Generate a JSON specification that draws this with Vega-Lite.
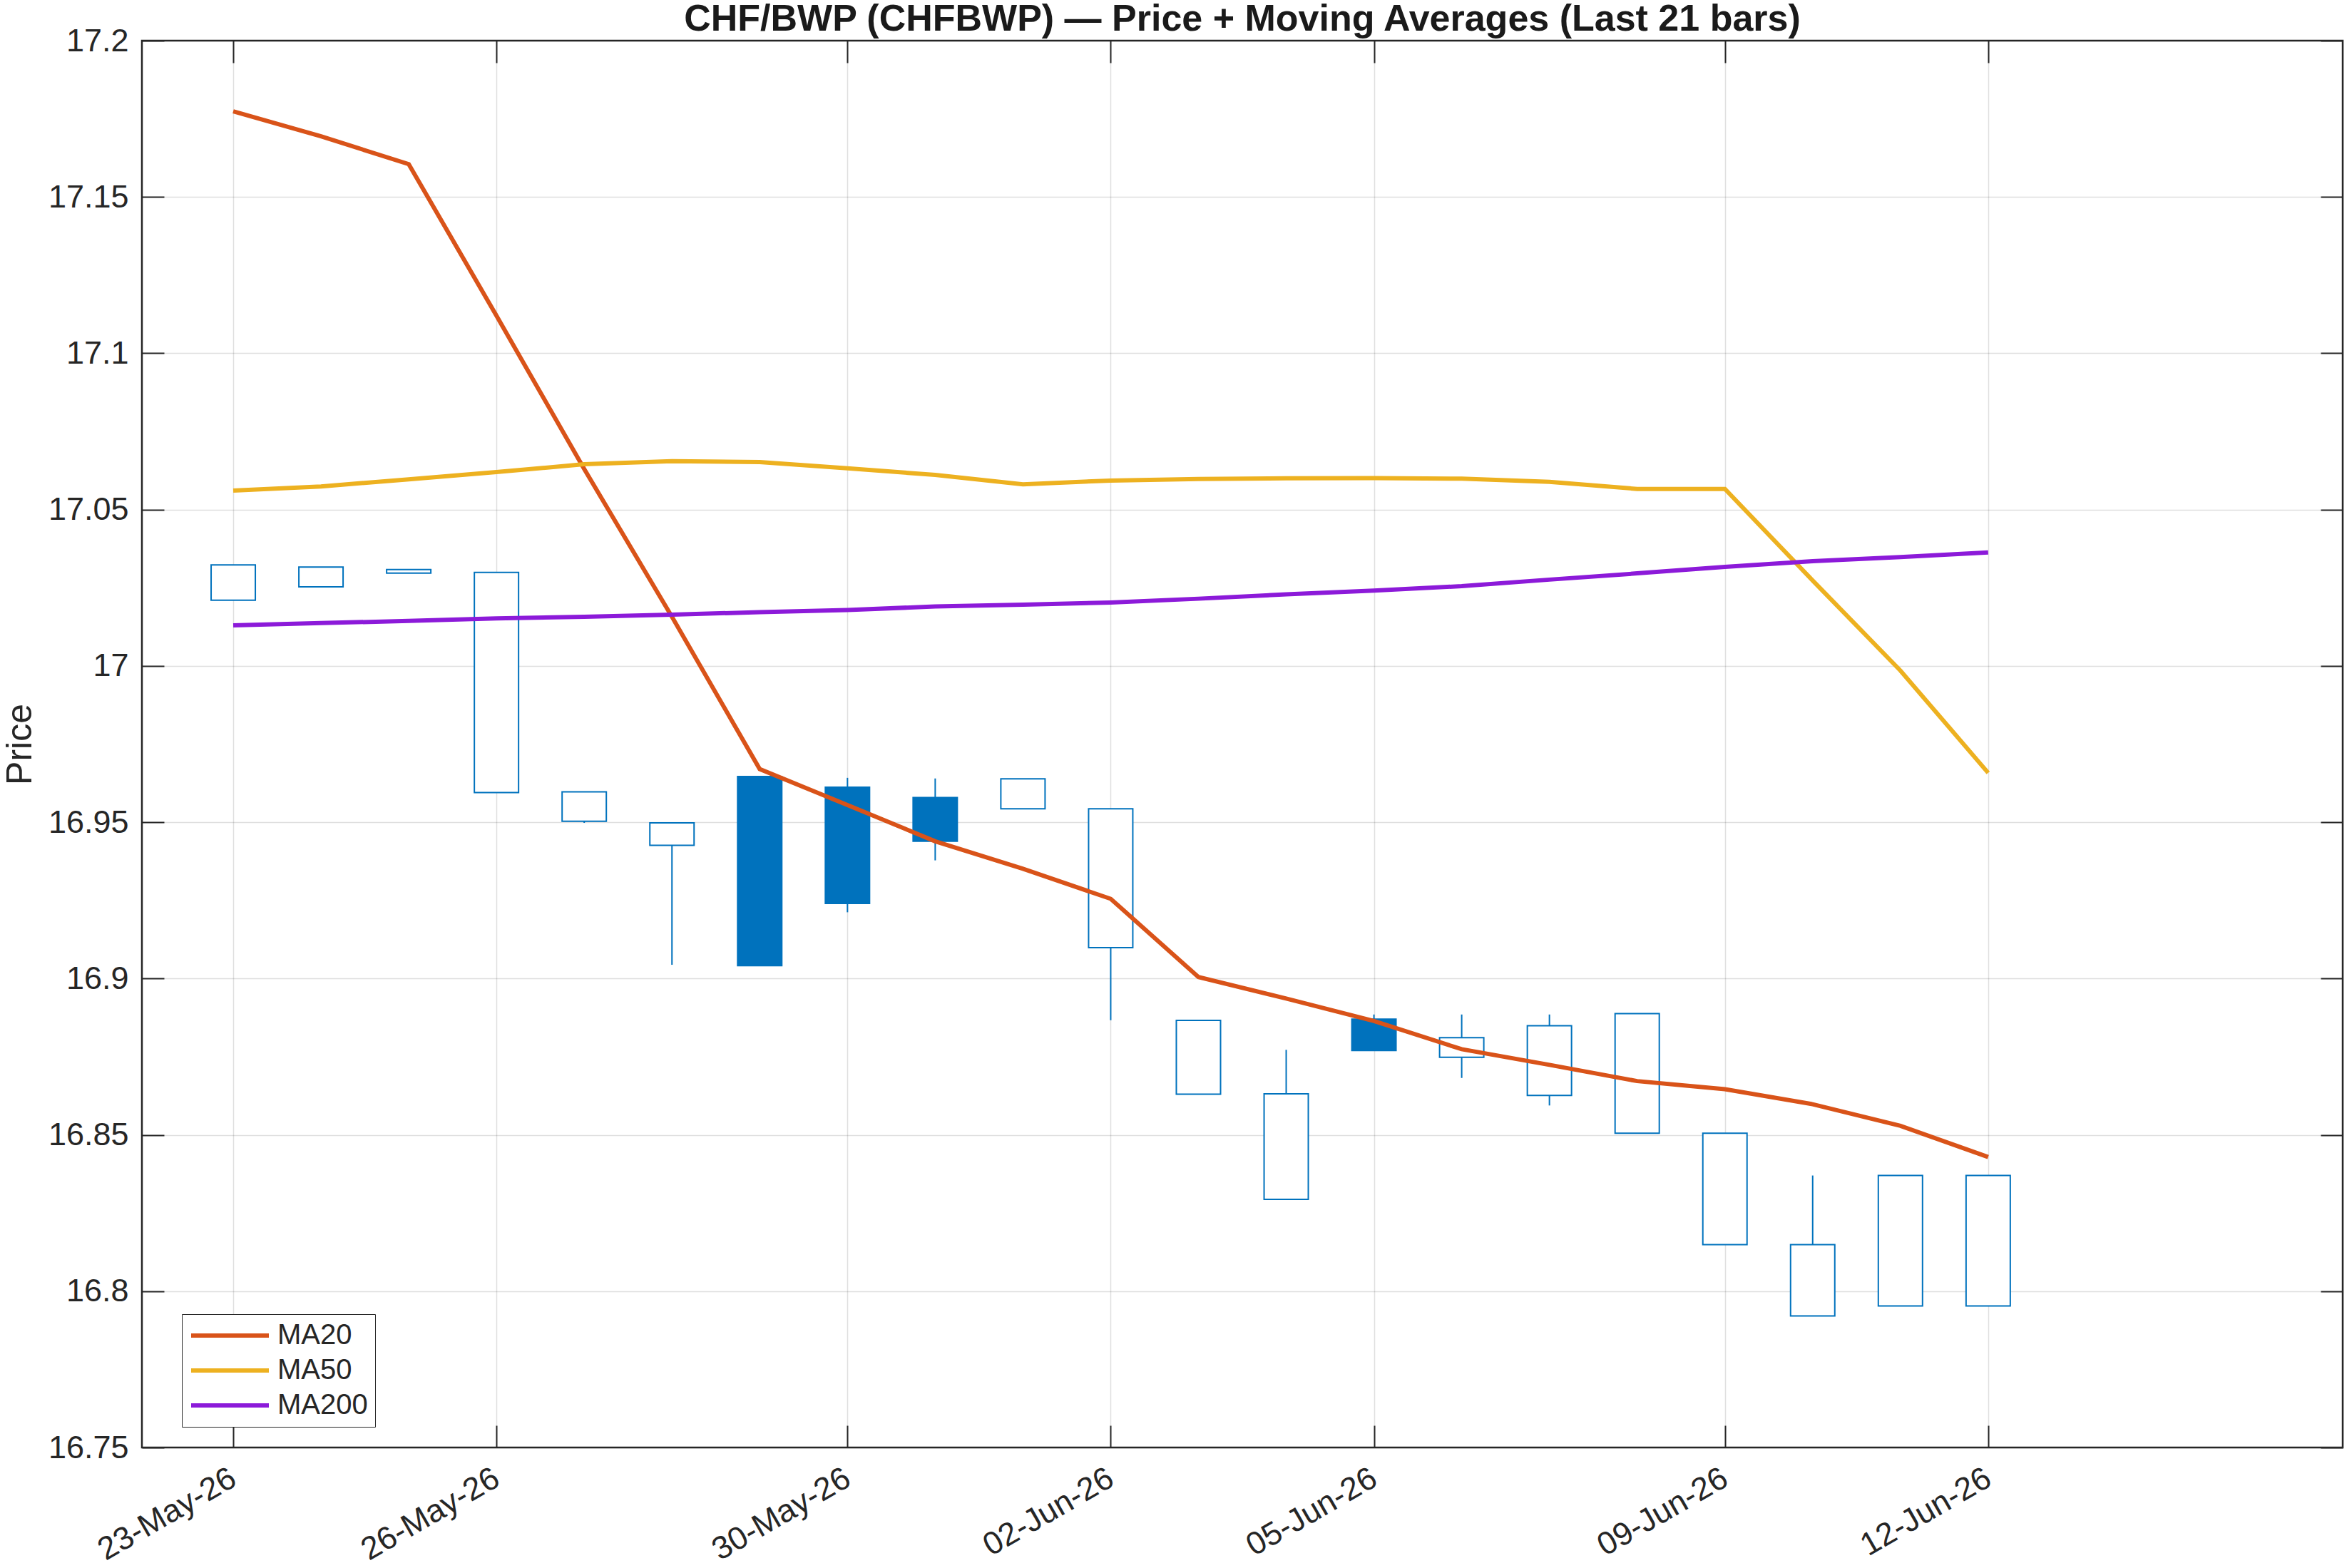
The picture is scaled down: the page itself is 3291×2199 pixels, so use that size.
{
  "$schema": "https://vega.github.io/schema/vega-lite/v6.json",
  "width": 3086,
  "height": 1973,
  "autosize": {"type": "none"},
  "padding": {"left": 199, "top": 57, "right": 6, "bottom": 169},
  "background": "white",
  "title": {
    "text": "CHF/BWP (CHFBWP) — Price + Moving Averages (Last 21 bars)",
    "fontSize": 52,
    "fontWeight": "bold",
    "font": "Liberation Sans",
    "color": "#1a1a1a",
    "anchor": "middle",
    "frame": "group",
    "baseline": "alphabetic",
    "offset": -60
  },
  "data": {
    "values": [
      {"date": "2026-05-23T00:00:00", "open": 17.0210, "high": 17.0323, "low": 17.0210, "close": 17.0323, "MA20": 17.1774, "MA50": 17.0561, "MA200": 17.0130},
      {"date": "2026-05-24T00:00:00", "open": 17.0253, "high": 17.0316, "low": 17.0253, "close": 17.0316, "MA20": 17.1694, "MA50": 17.0574, "MA200": 17.0137},
      {"date": "2026-05-25T00:00:00", "open": 17.0297, "high": 17.0308, "low": 17.0297, "close": 17.0308, "MA20": 17.1605, "MA50": 17.0597, "MA200": 17.0144},
      {"date": "2026-05-26T00:00:00", "open": 16.9595, "high": 17.0299, "low": 16.9595, "close": 17.0299, "MA20": 17.1120, "MA50": 17.0620, "MA200": 17.0152},
      {"date": "2026-05-27T00:00:00", "open": 16.9503, "high": 16.9597, "low": 16.9498, "close": 16.9597, "MA20": 17.0630, "MA50": 17.0645, "MA200": 17.0157},
      {"date": "2026-05-28T00:00:00", "open": 16.9426, "high": 16.9498, "low": 16.9044, "close": 16.9498, "MA20": 17.0157, "MA50": 17.0655, "MA200": 17.0164},
      {"date": "2026-05-29T00:00:00", "open": 16.9646, "high": 16.9646, "low": 16.9041, "close": 16.9041, "MA20": 16.9670, "MA50": 17.0652, "MA200": 17.0172},
      {"date": "2026-05-30T00:00:00", "open": 16.9612, "high": 16.9642, "low": 16.9212, "close": 16.9240, "MA20": 16.9555, "MA50": 17.0632, "MA200": 17.0179},
      {"date": "2026-05-31T00:00:00", "open": 16.9579, "high": 16.9640, "low": 16.9378, "close": 16.9439, "MA20": 16.9439, "MA50": 17.0611, "MA200": 17.0190},
      {"date": "2026-06-01T00:00:00", "open": 16.9543, "high": 16.9639, "low": 16.9543, "close": 16.9639, "MA20": 16.9351, "MA50": 17.0581, "MA200": 17.0196},
      {"date": "2026-06-02T00:00:00", "open": 16.9099, "high": 16.9543, "low": 16.8867, "close": 16.9543, "MA20": 16.9255, "MA50": 17.0593, "MA200": 17.0203},
      {"date": "2026-06-03T00:00:00", "open": 16.8630, "high": 16.8866, "low": 16.8630, "close": 16.8866, "MA20": 16.9005, "MA50": 17.0598, "MA200": 17.0215},
      {"date": "2026-06-04T00:00:00", "open": 16.8294, "high": 16.8772, "low": 16.8294, "close": 16.8631, "MA20": 16.8936, "MA50": 17.0600, "MA200": 17.0229},
      {"date": "2026-06-05T00:00:00", "open": 16.8870, "high": 16.8885, "low": 16.8770, "close": 16.8770, "MA20": 16.8864, "MA50": 17.0601, "MA200": 17.0241},
      {"date": "2026-06-06T00:00:00", "open": 16.8748, "high": 16.8885, "low": 16.8682, "close": 16.8811, "MA20": 16.8774, "MA50": 17.0599, "MA200": 17.0255},
      {"date": "2026-06-07T00:00:00", "open": 16.8626, "high": 16.8885, "low": 16.8594, "close": 16.8849, "MA20": 16.8724, "MA50": 17.0589, "MA200": 17.0276},
      {"date": "2026-06-08T00:00:00", "open": 16.8505, "high": 16.8888, "low": 16.8505, "close": 16.8888, "MA20": 16.8672, "MA50": 17.0566, "MA200": 17.0296},
      {"date": "2026-06-09T00:00:00", "open": 16.8149, "high": 16.8505, "low": 16.8149, "close": 16.8505, "MA20": 16.8646, "MA50": 17.0566, "MA200": 17.0317},
      {"date": "2026-06-10T00:00:00", "open": 16.7921, "high": 16.8370, "low": 16.7921, "close": 16.8149, "MA20": 16.8598, "MA50": 17.0273, "MA200": 17.0335},
      {"date": "2026-06-11T00:00:00", "open": 16.7953, "high": 16.8370, "low": 16.7953, "close": 16.8370, "MA20": 16.8529, "MA50": 16.9985, "MA200": 17.0348},
      {"date": "2026-06-12T00:00:00", "open": 16.7953, "high": 16.8370, "low": 16.7953, "close": 16.8370, "MA20": 16.8429, "MA50": 16.9658, "MA200": 17.0363}
    ]
  },
  "resolve": {"axis": {"x": "independent", "y": "independent"}},
  "layer": [
    {
      "description": "Wicks from low to high, with the main bottom and left axes",
      "mark": {"type": "rule", "color": "#0072BD", "strokeWidth": 2},
      "encoding": {
        "x": {
          "field": "date", "type": "temporal",
          "scale": {"domain": [{"year": 2026, "month": 5, "date": 22}, {"year": 2026, "month": 6, "date": 16}]},
          "axis": {
            "orient": "bottom",
            "title": null,
            "values": [
              {"year": 2026, "month": 5, "date": 23},
              {"year": 2026, "month": 5, "date": 26},
              {"year": 2026, "month": 5, "date": 30},
              {"year": 2026, "month": 6, "date": 2},
              {"year": 2026, "month": 6, "date": 5},
              {"year": 2026, "month": 6, "date": 9},
              {"year": 2026, "month": 6, "date": 12}
            ],
            "format": "%d-%b-%y",
            "labelAngle": -30,
            "labelAlign": "right",
            "labelBaseline": "middle",
            "labelFontSize": 45,
            "labelFont": "Liberation Sans",
            "labelColor": "#262626",
            "labelOverlap": false,
            "labelFlush": false,
            "labelLimit": 0,
            "labelPadding": 70,
            "tickSize": -31,
            "tickColor": "#262626",
            "tickWidth": 2,
            "domain": false,
            "grid": true,
            "gridColor": "#262626",
            "gridOpacity": 0.15,
            "gridWidth": 1.5
          }
        },
        "y": {
          "field": "low", "type": "quantitative",
          "scale": {"domain": [16.75, 17.2], "nice": false, "zero": false},
          "axis": {
            "orient": "left",
            "title": "Price",
            "titleFontSize": 50,
            "titleFont": "Liberation Sans",
            "titleFontWeight": "normal",
            "titleColor": "#262626",
            "titleAngle": -90,
            "titleAlign": "center",
            "titleBaseline": "alphabetic",
            "titleX": -156,
            "titleY": 986.5,
            "values": [16.75, 16.8, 16.85, 16.9, 16.95, 17, 17.05, 17.1, 17.15, 17.2],
            "format": "~g",
            "labelFontSize": 45,
            "labelFont": "Liberation Sans",
            "labelColor": "#262626",
            "labelOverlap": false,
            "labelFlush": false,
            "labelPadding": 50,
            "tickSize": -31,
            "tickColor": "#262626",
            "tickWidth": 2,
            "domain": false,
            "grid": true,
            "gridColor": "#262626",
            "gridOpacity": 0.15,
            "gridWidth": 1.5
          }
        },
        "y2": {"field": "high"}
      }
    },
    {
      "description": "Candle bodies: hollow when close is above open, filled otherwise",
      "mark": {"type": "bar", "size": 62, "stroke": "#0072BD", "strokeWidth": 2},
      "encoding": {
        "x": {"field": "date", "type": "temporal", "axis": null},
        "y": {"field": "open", "type": "quantitative", "axis": null},
        "y2": {"field": "close"},
        "fill": {
          "condition": {"test": "datum.open > datum.close", "value": "#0072BD"},
          "value": "#ffffff"
        }
      }
    },
    {
      "description": "Moving averages",
      "transform": [{"fold": ["MA20", "MA50", "MA200"], "as": ["series", "value"]}],
      "mark": {"type": "line", "strokeWidth": 6},
      "encoding": {
        "x": {"field": "date", "type": "temporal", "axis": null},
        "y": {"field": "value", "type": "quantitative", "axis": null},
        "color": {
          "field": "series", "type": "nominal",
          "scale": {"domain": ["MA20", "MA50", "MA200"], "range": ["#D95319", "#EDB120", "#8C1AD9"]},
          "legend": {
            "orient": "none",
            "legendX": 56,
            "legendY": 1786,
            "title": null,
            "symbolType": "stroke",
            "symbolSize": 11881,
            "symbolStrokeWidth": 6,
            "clipHeight": 40,
            "rowPadding": 9,
            "labelOffset": 9,
            "labelFontSize": 40,
            "labelFont": "Liberation Sans",
            "labelColor": "#262626",
            "padding": 10,
            "strokeColor": "#262626",
            "fillColor": "#ffffff",
            "cornerRadius": 0
          }
        }
      }
    },
    {
      "description": "Mirrored tick marks on the top and right edges of the box",
      "mark": {"type": "point", "opacity": 0},
      "encoding": {
        "x": {
          "field": "date", "type": "temporal",
          "axis": {
            "orient": "top",
            "title": null,
            "labels": false,
            "domain": false,
            "grid": false,
            "values": [
              {"year": 2026, "month": 5, "date": 23},
              {"year": 2026, "month": 5, "date": 26},
              {"year": 2026, "month": 5, "date": 30},
              {"year": 2026, "month": 6, "date": 2},
              {"year": 2026, "month": 6, "date": 5},
              {"year": 2026, "month": 6, "date": 9},
              {"year": 2026, "month": 6, "date": 12}
            ],
            "tickSize": -31,
            "tickColor": "#262626",
            "tickWidth": 2
          }
        },
        "y": {
          "field": "close", "type": "quantitative",
          "axis": {
            "orient": "right",
            "title": null,
            "labels": false,
            "domain": false,
            "grid": false,
            "values": [16.75, 16.8, 16.85, 16.9, 16.95, 17, 17.05, 17.1, 17.15, 17.2],
            "tickSize": -31,
            "tickColor": "#262626",
            "tickWidth": 2
          }
        }
      }
    }
  ],
  "config": {
    "font": "Liberation Sans",
    "view": {"stroke": "#262626", "strokeWidth": 2.5}
  }
}
